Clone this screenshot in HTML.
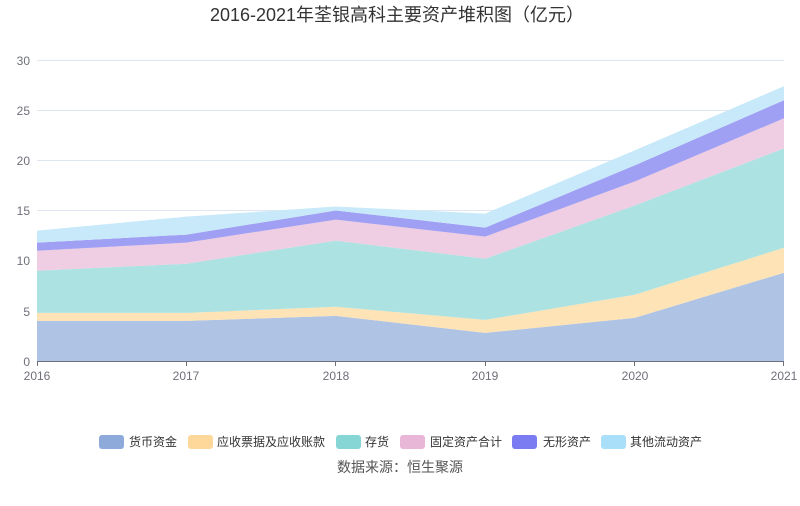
<!DOCTYPE html>
<html><head><meta charset="utf-8"><style>
body{margin:0;background:#fff;}
svg text{font-family:"Liberation Sans","Noto Sans CJK SC",sans-serif;}
</style></head><body>
<svg width="800" height="501" viewBox="0 0 800 501" xmlns="http://www.w3.org/2000/svg">
<rect width="800" height="501" fill="#fff"/>
<text x="397" y="21" font-size="18" fill="#333" text-anchor="middle">2016-2021年荃银高科主要资产堆积图（亿元）</text>
<g stroke="#e0e6f1" stroke-width="1">
<line x1="37" y1="60.5" x2="784" y2="60.5"/>
<line x1="37" y1="110.5" x2="784" y2="110.5"/>
<line x1="37" y1="160.5" x2="784" y2="160.5"/>
<line x1="37" y1="210.5" x2="784" y2="210.5"/>
<line x1="37" y1="260.5" x2="784" y2="260.5"/>
<line x1="37" y1="311.5" x2="784" y2="311.5"/>
</g>
<g font-size="12" fill="#6e7079" text-anchor="end">
<text x="30" y="65">30</text><text x="30" y="115">25</text><text x="30" y="165">20</text>
<text x="30" y="215">15</text><text x="30" y="265">10</text><text x="30" y="316">5</text><text x="30" y="366">0</text>
</g>
<polygon fill="#afc3e5" points="37,320.9 186.4,320.9 335.8,315.9 485.2,332.9 634.6,317.9 784,272.7 784,361 37,361"/>
<polygon fill="#fde3b5" points="37,312.9 186.4,312.9 335.8,306.8 485.2,319.9 634.6,294.8 784,247.7 784,272.7 634.6,317.9 485.2,332.9 335.8,315.9 186.4,320.9 37,320.9"/>
<polygon fill="#ace3e2" points="37,270.7 186.4,263.7 335.8,240.6 485.2,258.7 634.6,205.5 784,148.4 784,247.7 634.6,294.8 485.2,319.9 335.8,306.8 186.4,312.9 37,312.9"/>
<polygon fill="#efcde2" points="37,250.7 186.4,242.6 335.8,219.6 485.2,236.6 634.6,181.5 784,118.3 784,148.4 634.6,205.5 485.2,258.7 335.8,240.6 186.4,263.7 37,270.7"/>
<polygon fill="#9f9ff3" points="37,242.6 186.4,234.6 335.8,210.5 485.2,227.6 634.6,165.4 784,100.2 784,118.3 634.6,181.5 485.2,236.6 335.8,219.6 186.4,242.6 37,250.7"/>
<polygon fill="#c8e9f9" points="37,230.6 186.4,216.6 335.8,206.5 485.2,213.6 634.6,150.4 784,86.2 784,100.2 634.6,165.4 485.2,227.6 335.8,210.5 186.4,234.6 37,242.6"/>
<line x1="37" y1="361.5" x2="784" y2="361.5" stroke="#6e7079"/>
<g stroke="#6e7079"><line x1="37.5" y1="361" x2="37.5" y2="366"/><line x1="186.5" y1="361" x2="186.5" y2="366"/><line x1="335.5" y1="361" x2="335.5" y2="366"/><line x1="485.5" y1="361" x2="485.5" y2="366"/><line x1="634.5" y1="361" x2="634.5" y2="366"/><line x1="783.5" y1="361" x2="783.5" y2="366"/></g>
<g font-size="12" fill="#6e7079" text-anchor="middle">
<text x="37" y="380">2016</text><text x="186" y="380">2017</text><text x="336" y="380">2018</text>
<text x="485" y="380">2019</text><text x="635" y="380">2020</text><text x="784" y="380">2021</text>
</g>
<g font-size="12" fill="#333">
<rect x="99" y="435" width="25" height="14" rx="3" fill="#8eaadb"/><text x="129" y="446">货币资金</text>
<rect x="188" y="435" width="25" height="14" rx="3" fill="#fdd89a"/><text x="217" y="446">应收票据及应收账款</text>
<rect x="336" y="435" width="25" height="14" rx="3" fill="#85d6d4"/><text x="365" y="446">存货</text>
<rect x="400" y="435" width="25" height="14" rx="3" fill="#e8b6d7"/><text x="430" y="446">固定资产合计</text>
<rect x="512" y="435" width="25" height="14" rx="3" fill="#7b7bf2"/><text x="543" y="446">无形资产</text>
<rect x="601" y="435" width="25" height="14" rx="3" fill="#a9dff8"/><text x="630" y="446">其他流动资产</text>
</g>
<text x="400" y="472" font-size="14" fill="#555" text-anchor="middle">数据来源：恒生聚源</text>
</svg>
</body></html>
